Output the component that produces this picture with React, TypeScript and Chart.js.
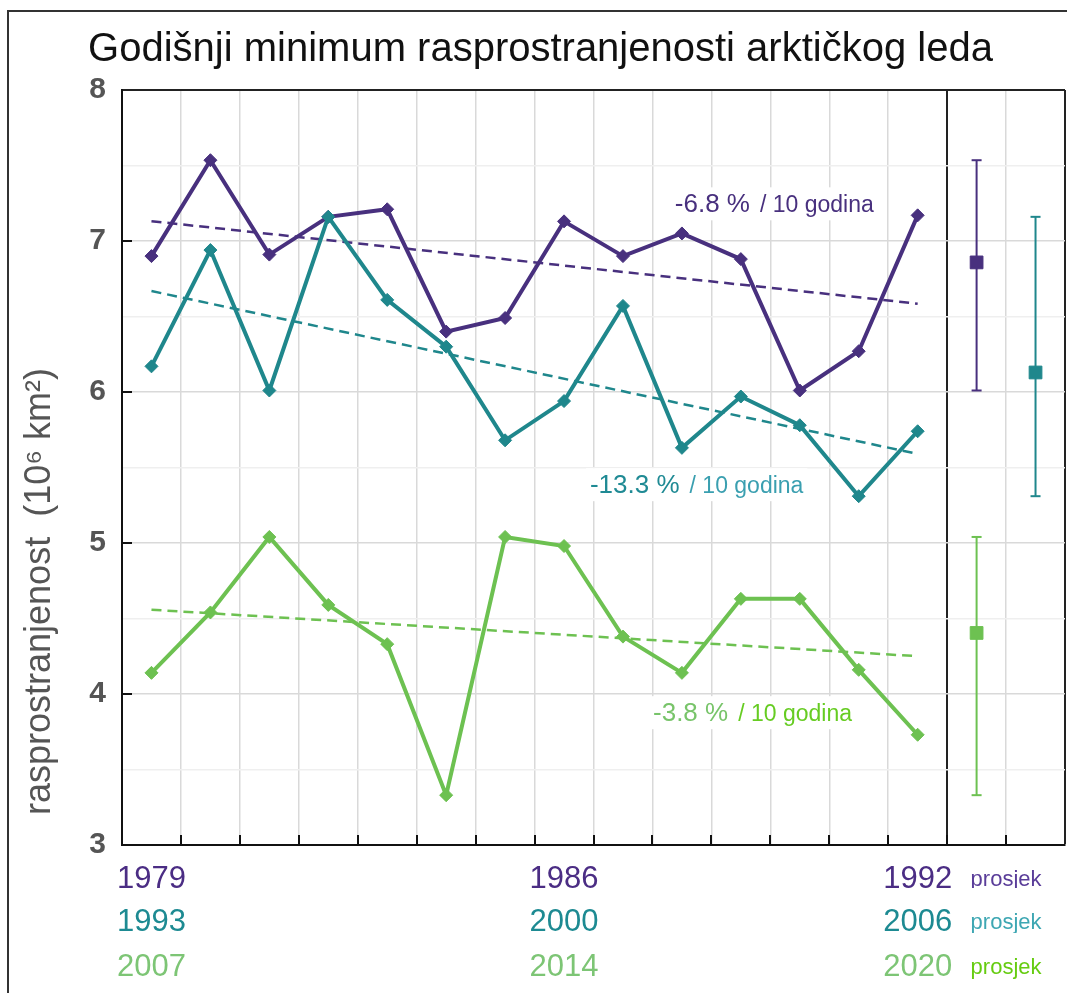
import React, { useEffect, useRef } from 'react';
import { Chart, registerables } from 'chart.js';

Chart.register(...registerables);

const FONT = "'Liberation Sans', Arial, Helvetica, sans-serif";

// ---- data ----
const years1 = ['1979', '1980', '1981', '1982', '1983', '1984', '1985', '1986', '1987', '1988', '1989', '1990', '1991', '1992'];
const years2 = ['1993', '1994', '1995', '1996', '1997', '1998', '1999', '2000', '2001', '2002', '2003', '2004', '2005', '2006'];
const years3 = ['2007', '2008', '2009', '2010', '2011', '2012', '2013', '2014', '2015', '2016', '2017', '2018', '2019', '2020'];

const extent1 = [6.90, 7.535, 6.91, 7.16, 7.21, 6.40, 6.49, 7.13, 6.90, 7.05, 6.88, 6.01, 6.27, 7.17];
const extent2 = [6.17, 6.94, 6.01, 7.16, 6.61, 6.30, 5.68, 5.94, 6.57, 5.63, 5.97, 5.78, 5.31, 5.74];
const extent3 = [4.14, 4.54, 5.04, 4.59, 4.33, 3.33, 5.04, 4.98, 4.38, 4.14, 4.63, 4.63, 4.16, 3.73];

const trendTexts = ['-6.8 %', '-13.3 %', '-3.8 %'];
const trendUnit = '/ 10 godina';
const meanLabel = 'prosjek';
const meanColumn = [0, 1, 0];
const labelYearIndex = [0, 7, 13];

const yTickLabels = ['3', '4', '5', '6', '7', '8'];

const TITLE = 'Godišnji minimum rasprostranjenosti arktičkog leda';
const Y_TITLE = 'rasprostranjenost  (10⁶ km²)';

// ---- styles ----
const lineColors = ['#48307e', '#1f878c', '#6dc151'];
const yearColors = ['#4b2d84', '#1d8a92', '#7dc575'];
const prosjekColors = ['#5a3d99', '#3ea7b3', '#66cc11'];
const pctColors = ['#48307e', '#1f8a94', '#78c46a'];
const unitColors = ['#48307e', '#3a9fb0', '#66cc22'];

const series = [extent1, extent2, extent3];
const yearRows = [years1, years2, years3];

function regression(vals: number[]) {
  const n = vals.length;
  const xs = vals.map((_, i) => i);
  const mx = xs.reduce((a, b) => a + b, 0) / n;
  const my = vals.reduce((a, b) => a + b, 0) / n;
  let sxy = 0, sxx = 0;
  for (let i = 0; i < n; i++) {
    sxy += (xs[i] - mx) * (vals[i] - my);
    sxx += (xs[i] - mx) * (xs[i] - mx);
  }
  const slope = sxy / sxx;
  return { a: my - slope * mx, b: slope };
}

const annotationPos = [
  { x: 9.38, y: 7.19 },
  { x: 7.94, y: 5.33 },
  { x: 9.01, y: 3.82 },
];

const framePlugin = {
  id: 'frame',
  beforeDraw(chart: any) {
    const ctx = chart.ctx;
    ctx.save();
    ctx.fillStyle = '#ffffff';
    ctx.fillRect(0, 0, chart.width, chart.height);
    ctx.strokeStyle = '#333333';
    ctx.lineWidth = 2;
    ctx.beginPath();
    ctx.moveTo(8, chart.height + 5);
    ctx.lineTo(8, 11);
    ctx.lineTo(chart.width + 5, 11);
    ctx.stroke();
    ctx.restore();
  },
};

const annotationPlugin = {
  id: 'trendLabels',
  beforeDatasetsDraw(chart: any) {
    const ctx = chart.ctx;
    const xs = chart.scales.x;
    const ys = chart.scales.y;
    ctx.save();
    annotationPos.forEach((p, k) => {
      const px = xs.getPixelForValue(p.x);
      const py = ys.getPixelForValue(p.y);
      const f1 = `26px ${FONT}`;
      const f2 = `23px ${FONT}`;
      ctx.font = f1;
      const w1 = ctx.measureText(trendTexts[k]).width;
      ctx.font = f2;
      const w2 = ctx.measureText(trendUnit).width;
      const gap = 10;
      ctx.fillStyle = '#ffffff';
      ctx.fillRect(px - 4, py - 25, w1 + gap + w2 + 8, 33);
      ctx.textBaseline = 'alphabetic';
      ctx.textAlign = 'left';
      ctx.font = f1;
      ctx.fillStyle = pctColors[k];
      ctx.fillText(trendTexts[k], px, py);
      ctx.font = f2;
      ctx.fillStyle = unitColors[k];
      ctx.fillText(trendUnit, px + w1 + gap, py);
    });
    ctx.restore();
  },
};

const innerTicksPlugin = {
  id: 'innerTicks',
  afterDraw(chart: any) {
    const ctx = chart.ctx;
    const xs = chart.scales.x;
    const ys = chart.scales.y;
    const { left, bottom } = chart.chartArea;
    ctx.save();
    ctx.strokeStyle = '#111111';
    ctx.lineWidth = 2;
    ctx.beginPath();
    for (let v = 1; v < 16; v++) {
      const x = Math.round(xs.getPixelForValue(v));
      ctx.moveTo(x, bottom);
      ctx.lineTo(x, bottom - 10);
    }
    for (let v = 4; v < 8; v++) {
      const y = Math.round(ys.getPixelForValue(v));
      ctx.moveTo(left, y);
      ctx.lineTo(left + 10, y);
    }
    ctx.stroke();
    ctx.restore();
  },
};

export default function App() {
  const ref = useRef<HTMLCanvasElement | null>(null);

  useEffect(() => {
    document.body.style.margin = '0';
    const canvas = ref.current;
    if (!canvas) return;
    const n = years1.length;
    const total = n + 2;

    const lineSets: any[] = [];
    const trendSets: any[] = [];
    const meanSets: any[] = [];
    const errSets: any[] = [];

    series.forEach((vals, k) => {
      const c = lineColors[k];
      lineSets.push({
        data: vals.map((v, i) => ({ x: i + 0.5, y: v })),
        borderColor: c,
        backgroundColor: c,
        borderWidth: 4,
        pointStyle: 'rectRot',
        pointRadius: 6.5,
        pointBackgroundColor: c,
        pointBorderColor: c,
        pointBorderWidth: 1,
        tension: 0,
      });
      const r = regression(vals);
      trendSets.push({
        data: [
          { x: 0.5, y: r.a },
          { x: n - 0.5, y: r.a + r.b * (n - 1) },
        ],
        borderColor: c,
        borderWidth: 2.5,
        borderDash: [10, 6],
        pointRadius: 0,
        tension: 0,
      });
      const mean = vals.reduce((a, b) => a + b, 0) / vals.length;
      const mx = n + meanColumn[k] + 0.5;
      meanSets.push({
        data: [{ x: mx, y: mean }],
        showLine: false,
        pointStyle: 'rect',
        pointRadius: 9,
        pointBackgroundColor: c,
        pointBorderColor: c,
        pointBorderWidth: 1,
      });
      errSets.push({
        data: [
          { x: mx, y: Math.min(...vals) },
          { x: mx, y: Math.max(...vals) },
        ],
        borderColor: c,
        borderWidth: 2,
        pointStyle: 'line',
        pointRadius: 5,
        pointBorderColor: c,
        pointBorderWidth: 2,
        tension: 0,
      });
    });

    const datasets = [lineSets[1], lineSets[0], lineSets[2], ...meanSets, ...errSets, ...trendSets];

    const tickVals = [...labelYearIndex.map((i) => i + 0.5), n + 1];

    const labelAxis = (k: number, weight: number, height: number) => ({
      type: 'linear',
      min: 0,
      max: total,
      position: 'bottom',
      weight,
      grid: { display: false, drawTicks: false },
      border: { display: false },
      afterBuildTicks: (s: any) => {
        s.ticks = tickVals.map((v) => ({ value: v }));
      },
      ticks: {
        autoSkip: false,
        maxRotation: 0,
        minRotation: 0,
        padding: 16,
        callback: (_v: any, i: number) =>
          i < labelYearIndex.length ? yearRows[k][labelYearIndex[i]] : meanLabel,
        color: (c: any) => (c.index === labelYearIndex.length ? prosjekColors[k] : yearColors[k]),
        font: (c: any) =>
          c.index === labelYearIndex.length
            ? { size: 22, family: FONT, lineHeight: 37.2 / 22 }
            : { size: 31, family: FONT, lineHeight: 1.2 },
      },
      afterFit: (s: any) => {
        s.height = height;
      },
    });

    const chart = new Chart(canvas, {
      type: 'line',
      data: { datasets },
      plugins: [framePlugin, annotationPlugin, innerTicksPlugin],
      options: {
        animation: false,
        responsive: false,
        devicePixelRatio: 1,
        layout: { autoPadding: false, padding: { left: 16, right: 2, top: 0, bottom: 0 } },
        plugins: {
          legend: { display: false },
          tooltip: { enabled: false },
          title: {
            display: true,
            text: TITLE,
            color: '#111111',
            font: { size: 40, family: FONT, weight: 'normal', lineHeight: 1.2 },
            padding: { top: 26, bottom: 16 },
          },
        },
        scales: {
          x: {
            type: 'linear',
            min: 0,
            max: total,
            position: 'bottom',
            weight: 0,
            ticks: { display: false, stepSize: 1 },
            grid: {
              drawTicks: false,
              color: (c: any) => {
                const v = c.tick ? c.tick.value : 0;
                return v === n || v === total ? '#222222' : '#d9d9d9';
              },
              lineWidth: (c: any) => {
                const v = c.tick ? c.tick.value : 0;
                return v === n || v === total ? 2 : 1.5;
              },
            },
            border: { display: true, color: '#111111', width: 2 },
            afterFit: (s: any) => {
              s.height = 0;
            },
          },
          x1: labelAxis(0, 1, 43),
          x2: labelAxis(1, 2, 45),
          x3: labelAxis(2, 3, 60),
          y: {
            type: 'linear',
            min: 3,
            max: 8,
            position: 'left',
            ticks: {
              stepSize: 0.5,
              autoSkip: false,
              padding: 16,
              color: '#555555',
              font: { size: 30, weight: 'bold', family: FONT },
              callback: (v: any) => {
                const s = String(v);
                return yTickLabels.includes(s) ? s : '';
              },
            },
            grid: {
              drawTicks: false,
              color: (c: any) => {
                const v = c.tick ? c.tick.value : 0;
                if (v === 8) return '#222222';
                return Number.isInteger(v) ? '#d9d9d9' : '#efefef';
              },
              lineWidth: (c: any) => {
                const v = c.tick ? c.tick.value : 0;
                return v === 8 ? 2 : 1.5;
              },
            },
            border: { display: true, color: '#111111', width: 2 },
            title: {
              display: true,
              text: '   ' + Y_TITLE,
              align: 'start',
              color: '#555555',
              font: { size: 36, family: FONT, lineHeight: 1.2 },
              padding: { top: 2, bottom: 0 },
            },
            afterFit: (s: any) => {
              s.width = 106;
            },
          },
        },
      } as any,
    });

    return () => {
      chart.destroy();
    };
  }, []);

  return (
    <div style={{ width: 1067, height: 993 }}>
      <canvas ref={ref} width={1067} height={993} style={{ display: 'block' }} />
    </div>
  );
}
